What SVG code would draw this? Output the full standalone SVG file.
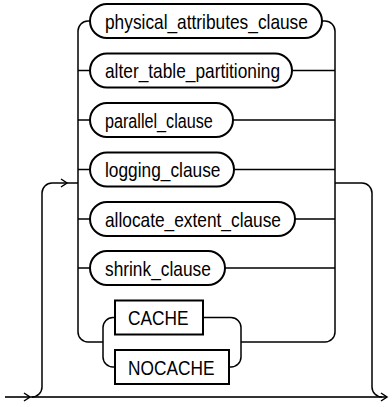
<svg xmlns="http://www.w3.org/2000/svg" width="392" height="407" viewBox="0 0 392 407">
<defs>
<style>
.n{fill:#fff;stroke:#000;stroke-width:2}
.t{font-family:"Liberation Sans",Arial,sans-serif;font-size:21px;fill:#000}
.c{fill:none;stroke:#000;stroke-width:1.5}
.m{fill:none;stroke:#333;stroke-width:2}
</style>
<marker id="ar" markerWidth="10" markerHeight="10" refX="7" refY="5" orient="auto" markerUnits="userSpaceOnUse">
<path d="M1,1 L7,5 L1,9" fill="none" stroke="#000" stroke-width="1.5"/>
</marker>
</defs>
<rect width="392" height="407" fill="#fff"/>
<g id="connectors">
<path class="m" d="M5,397 H30" marker-end="url(#ar)"/>
<path class="m" d="M30,397 H387" marker-end="url(#ar)"/>
<path class="c" d="M32,397 A10,10 0 0 0 42,387 V193 A10,10 0 0 1 52,183 H67" marker-end="url(#ar)"/>
<path class="c" d="M67,183 H78"/>
<path class="c" d="M335,183 H362 A10,10 0 0 1 372,193 V387 A10,10 0 0 0 382,397"/>
<path class="c" d="M90,21 H88 A10,10 0 0 0 78,31 V332 A10,10 0 0 0 88,342 H103"/>
<path class="c" d="M322,21 H325 A10,10 0 0 1 335,31 V332 A10,10 0 0 1 325,342 H241"/>
<path class="c" d="M78,70.5 H90 M292,70.5 H335"/>
<path class="c" d="M78,120 H90 M233,120 H335"/>
<path class="c" d="M78,169.5 H90 M234,169.5 H335"/>
<path class="c" d="M78,219 H90 M295,219 H335"/>
<path class="c" d="M78,268 H90 M225,268 H335"/>
<path class="c" d="M115,317.5 H113 A10,10 0 0 0 103,327.5 V357 A10,10 0 0 0 113,367 H115"/>
<path class="c" d="M203,317.5 H231 A10,10 0 0 1 241,327.5 V357 A10,10 0 0 1 231,367 H229"/>
</g>
<g id="physical_attributes_clause">
<rect class="n" x="90" y="4" width="232" height="34" rx="17"/>
<text class="t" transform="translate(105,28.5) scale(0.824,1)">physical_attributes_clause</text>
</g>
<g id="alter_table_partitioning">
<rect class="n" x="90" y="53.5" width="202" height="34" rx="17"/>
<text class="t" transform="translate(105,78) scale(0.824,1)">alter_table_partitioning</text>
</g>
<g id="parallel_clause">
<rect class="n" x="90" y="103" width="143" height="34" rx="17"/>
<text class="t" transform="translate(105,127.5) scale(0.77,1)">parallel_clause</text>
</g>
<g id="logging_clause">
<rect class="n" x="90" y="152.5" width="144" height="34" rx="17"/>
<text class="t" transform="translate(105,177) scale(0.824,1)">logging_clause</text>
</g>
<g id="allocate_extent_clause">
<rect class="n" x="90" y="202" width="205" height="34" rx="17"/>
<text class="t" transform="translate(105,226.5) scale(0.824,1)">allocate_extent_clause</text>
</g>
<g id="shrink_clause">
<rect class="n" x="90" y="251" width="135" height="34" rx="17"/>
<text class="t" transform="translate(105,275.5) scale(0.824,1)">shrink_clause</text>
</g>
<g id="CACHE">
<rect class="n" x="115" y="300.5" width="88" height="34"/>
<text class="t" transform="translate(128,325) scale(0.824,1)">CACHE</text>
</g>
<g id="NOCACHE">
<rect class="n" x="115" y="350" width="114" height="34"/>
<text class="t" transform="translate(128,374.5) scale(0.824,1)">NOCACHE</text>
</g>
</svg>
